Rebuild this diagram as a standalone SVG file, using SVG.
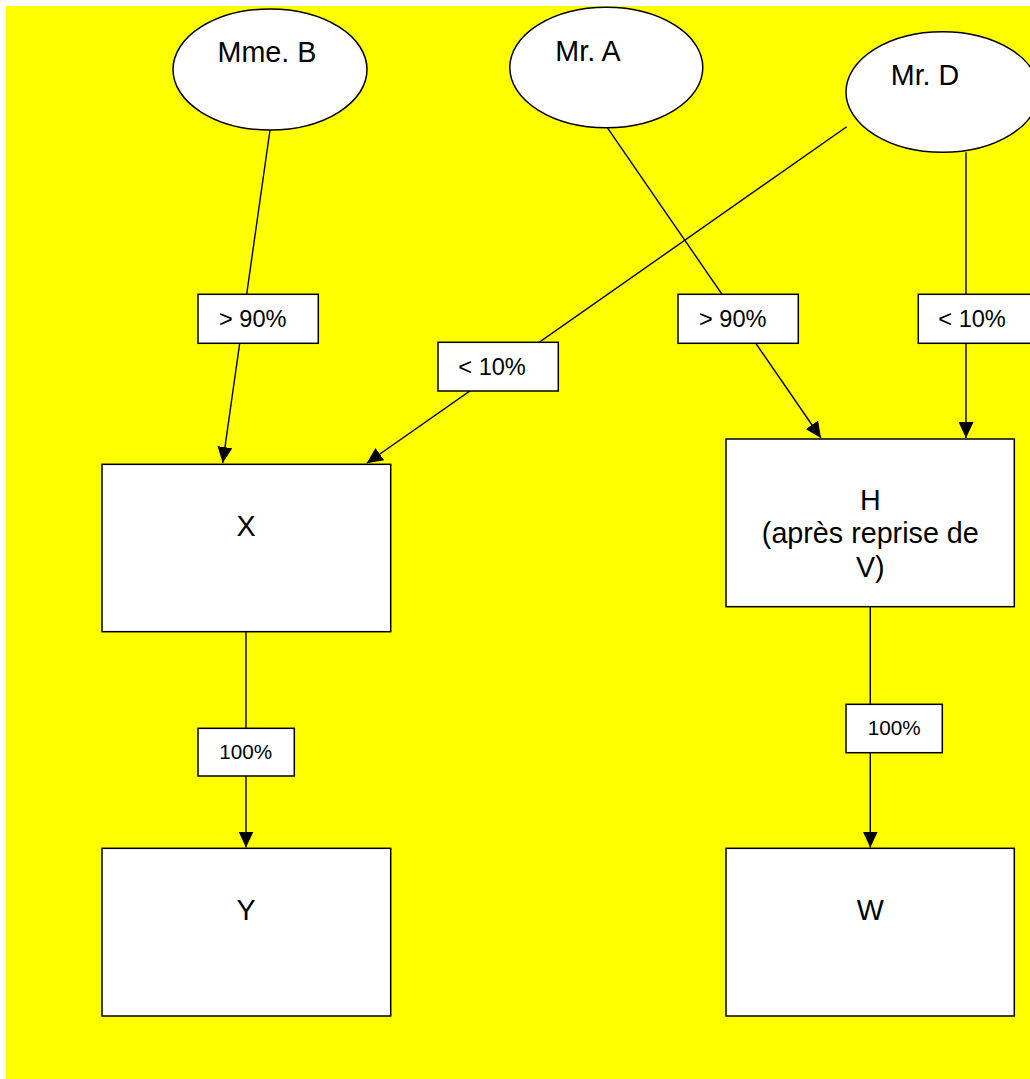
<svg xmlns="http://www.w3.org/2000/svg" width="1030" height="1079" viewBox="0 0 1030 1079">
  <style>
    .shape { fill: #ffffff; stroke: #000000; stroke-width: 1.5; }
    .edge { fill: none; stroke: #000000; stroke-width: 1.4; }
    .big { font-family: "Liberation Sans", Arial, sans-serif; font-size: 28.7px; fill: #000000; }
    .mid { font-family: "Liberation Sans", Arial, sans-serif; font-size: 23.6px; fill: #000000; }
    .small { font-family: "Liberation Sans", Arial, sans-serif; font-size: 20.7px; fill: #000000; }
  </style>
  <defs>
    <marker id="arrow" markerUnits="userSpaceOnUse" markerWidth="16" markerHeight="15" refX="16" refY="7.5" orient="auto">
      <path d="M0,0 L16,7.5 L0,15 z" fill="#000000"/>
    </marker>
  </defs>
  <rect x="0" y="0" width="1030" height="1079" fill="#ffffff"/>
  <rect x="6" y="6" width="1024" height="1073" fill="#ffff00"/>

  <g id="connectors">
    <line class="edge" x1="270" y1="130" x2="222.7" y2="463" marker-end="url(#arrow)"/>
    <line class="edge" x1="846.7" y1="126.7" x2="366.7" y2="463.3" marker-end="url(#arrow)"/>
    <line class="edge" x1="607.3" y1="127.7" x2="821" y2="438" marker-end="url(#arrow)"/>
    <line class="edge" x1="966" y1="152.3" x2="966" y2="438" marker-end="url(#arrow)"/>
    <line class="edge" x1="246" y1="632" x2="246" y2="847.5" marker-end="url(#arrow)"/>
    <line class="edge" x1="870.3" y1="607" x2="870.3" y2="847.5" marker-end="url(#arrow)"/>

    <g id="label-b-x">
      <rect class="shape" x="198" y="294.3" width="120.3" height="49"/>
      <text class="mid" x="219" y="326.7">&gt; 90%</text>
    </g>
    <g id="label-d-x">
      <rect class="shape" x="438" y="342.3" width="120.3" height="48.7"/>
      <text class="mid" x="458.3" y="375">&lt; 10%</text>
    </g>
    <g id="label-a-h">
      <rect class="shape" x="678" y="294.3" width="120.3" height="49"/>
      <text class="mid" x="699" y="326.7">&gt; 90%</text>
    </g>
    <g id="label-d-h">
      <rect class="shape" x="918.3" y="294.3" width="120.3" height="49"/>
      <text class="mid" x="938.3" y="326.7">&lt; 10%</text>
    </g>
    <g id="label-x-y">
      <rect class="shape" x="198" y="728.3" width="96.3" height="47.7"/>
      <text class="small" x="245.8" y="759" text-anchor="middle">100%</text>
    </g>
    <g id="label-h-w">
      <rect class="shape" x="846" y="704.3" width="96.3" height="48.4"/>
      <text class="small" x="894.2" y="735.3" text-anchor="middle">100%</text>
    </g>
  </g>

  <g id="node-mme-b">
    <ellipse class="shape" cx="270" cy="69.5" rx="97" ry="60.5"/>
    <text class="big" x="267" y="62" text-anchor="middle">Mme. B</text>
  </g>
  <g id="node-mr-a">
    <ellipse class="shape" cx="606.3" cy="67.5" rx="96.5" ry="60.2"/>
    <text class="big" x="588" y="61" text-anchor="middle">Mr. A</text>
  </g>
  <g id="node-mr-d">
    <ellipse class="shape" cx="942.5" cy="92" rx="96.5" ry="60.3"/>
    <text class="big" x="925" y="85" text-anchor="middle">Mr. D</text>
  </g>
  <g id="node-x">
    <rect class="shape" x="102" y="464.3" width="288.7" height="167.4"/>
    <text class="big" x="246" y="536" text-anchor="middle">X</text>
  </g>
  <g id="node-h">
    <rect class="shape" x="726" y="439" width="288.3" height="167.7"/>
    <text class="big" x="870.3" y="510" text-anchor="middle">H</text>
    <text class="big" x="870.3" y="543" text-anchor="middle">(après reprise de</text>
    <text class="big" x="870.3" y="576.5" text-anchor="middle">V)</text>
  </g>
  <g id="node-y">
    <rect class="shape" x="102" y="848.3" width="288.7" height="167.7"/>
    <text class="big" x="246" y="920" text-anchor="middle">Y</text>
  </g>
  <g id="node-w">
    <rect class="shape" x="726" y="848.3" width="288.3" height="167.7"/>
    <text class="big" x="870.3" y="920" text-anchor="middle">W</text>
  </g>
</svg>
